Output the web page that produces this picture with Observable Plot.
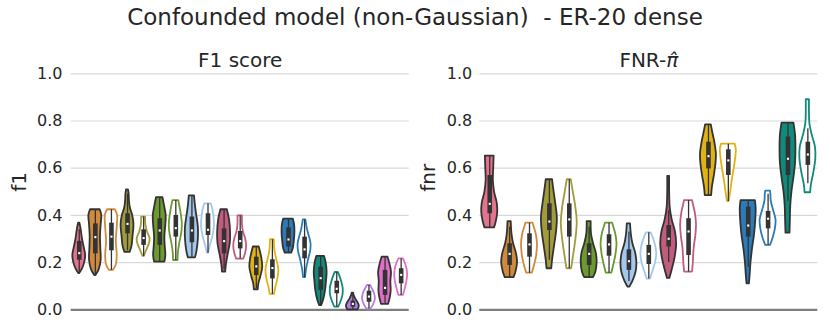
<!DOCTYPE html>
<html>
<head>
<meta charset="utf-8">
<script src="https://cdn.jsdelivr.net/npm/d3@7"></script>
<script src="https://cdn.jsdelivr.net/npm/@observablehq/plot@0.6"></script>
<style>
  body { margin: 0; background: #fff; font-family: "DejaVu Sans", sans-serif; color: #262626; }
  #title { height: 34px; line-height: 34px; text-align: center; font-size: 23px; white-space: pre; width: 830px; }
  #row { display: flex; width: 830px; }
  #row svg { display: block; }
</style>
</head>
<body>
<div id="title">Confounded model (non-Gaussian)  - ER-20 dense</div>
<div id="row"></div>
<script>
// ---------- data ----------
const yTicks = [0, 0.2, 0.4, 0.6, 0.8, 1.0];

const PINK = "#e5738e", ORANGE = "#d08a3c", OLIVE = "#a29b3a", GREEN = "#6c9a2e",
      LBLUE = "#a4c8ec", MAUVE = "#c25c7c", GOLD = "#e0b313", BLUE = "#2b7bb9",
      TEAL = "#108a7b", PURPLE = "#b47ee5", MAGENTA = "#e16fca";

// Left panel: F1 score
const f1Title = "F1 score";
const f1Label = "f1";
const f1Colors = [PINK, ORANGE, ORANGE, OLIVE, OLIVE, GREEN, GREEN, LBLUE, LBLUE, MAUVE, MAUVE,
                  GOLD, GOLD, BLUE, BLUE, TEAL, TEAL, PURPLE, PURPLE, MAGENTA, MAGENTA];
const f1Filled = [1, 1, 0, 1, 0, 1, 0, 1, 0, 1, 0, 1, 0, 1, 0, 1, 0, 1, 0, 1, 0];
// [whisker low, q1, median, q3, whisker high]
const f1Box = [
  [0.155, 0.21, 0.24, 0.29, 0.34],
  [0.145, 0.237, 0.308, 0.364, 0.424],
  [0.167, 0.25, 0.31, 0.367, 0.424],
  [0.25, 0.322, 0.364, 0.407, 0.49],
  [0.226, 0.273, 0.304, 0.339, 0.393],
  [0.202, 0.273, 0.336, 0.386, 0.475],
  [0.209, 0.308, 0.346, 0.40, 0.463],
  [0.22, 0.284, 0.336, 0.393, 0.483],
  [0.24, 0.315, 0.339, 0.407, 0.449],
  [0.17, 0.237, 0.291, 0.343, 0.424],
  [0.215, 0.258, 0.291, 0.332, 0.398],
  [0.09, 0.145, 0.184, 0.223, 0.266],
  [0.065, 0.131, 0.177, 0.212, 0.297],
  [0.24, 0.266, 0.298, 0.347, 0.384],
  [0.136, 0.216, 0.256, 0.308, 0.381],
  [0.018, 0.082, 0.134, 0.181, 0.226],
  [0.011, 0.068, 0.089, 0.121, 0.158],
  [0.0, 0.011, 0.025, 0.037, 0.071],
  [0.003, 0.032, 0.056, 0.079, 0.103],
  [0.023, 0.061, 0.093, 0.167, 0.223],
  [0.061, 0.11, 0.148, 0.174, 0.216]
];
// violin outline: [value, relative half-width]
const f1Shape = [
  [[0.153,0.05],[0.17,0.45],[0.2,0.85],[0.23,1.0],[0.26,0.8],[0.3,0.5],[0.34,0.3],[0.367,0.1]],
  [[0.145,0.1],[0.17,0.6],[0.21,0.9],[0.26,0.85],[0.31,0.8],[0.36,0.9],[0.40,1.0],[0.424,0.75]],
  [[0.167,0.3],[0.19,0.75],[0.23,0.9],[0.29,0.75],[0.35,0.9],[0.40,0.95],[0.424,0.6]],
  [[0.243,0.4],[0.27,0.7],[0.31,0.85],[0.36,1.0],[0.40,0.8],[0.43,0.45],[0.46,0.3],[0.49,0.25],[0.508,0.15]],
  [[0.226,0.1],[0.25,0.45],[0.28,0.9],[0.30,1.0],[0.33,0.6],[0.36,0.35],[0.393,0.3]],
  [[0.202,0.8],[0.23,0.95],[0.27,0.85],[0.31,0.8],[0.36,0.95],[0.40,1.0],[0.44,0.75],[0.475,0.5]],
  [[0.209,0.35],[0.24,0.4],[0.28,0.6],[0.33,0.95],[0.37,1.0],[0.42,0.75],[0.463,0.45]],
  [[0.22,0.55],[0.25,0.8],[0.3,1.0],[0.35,1.0],[0.40,0.75],[0.44,0.55],[0.483,0.4]],
  [[0.24,0.1],[0.27,0.35],[0.31,0.75],[0.35,1.0],[0.40,0.9],[0.43,0.7],[0.449,0.5]],
  [[0.16,0.25],[0.19,0.35],[0.23,0.6],[0.28,0.95],[0.33,1.0],[0.38,0.85],[0.424,0.5]],
  [[0.215,0.55],[0.24,0.85],[0.27,1.0],[0.30,0.85],[0.33,0.5],[0.36,0.35],[0.398,0.35]],
  [[0.085,0.3],[0.11,0.4],[0.14,0.7],[0.18,1.0],[0.22,0.85],[0.25,0.6],[0.266,0.45]],
  [[0.065,0.35],[0.09,0.5],[0.13,0.85],[0.17,1.0],[0.21,0.7],[0.25,0.4],[0.297,0.3]],
  [[0.24,0.5],[0.26,0.75],[0.29,0.9],[0.33,1.0],[0.36,0.95],[0.384,0.75]],
  [[0.136,0.15],[0.17,0.3],[0.21,0.6],[0.25,0.95],[0.28,1.0],[0.31,0.75],[0.34,0.45],[0.381,0.2]],
  [[0.018,0.15],[0.04,0.45],[0.08,0.75],[0.12,0.9],[0.16,1.0],[0.2,0.85],[0.226,0.6]],
  [[0.011,0.3],[0.03,0.6],[0.06,0.95],[0.09,1.0],[0.12,0.75],[0.145,0.45],[0.158,0.25]],
  [[0.0,0.8],[0.015,1.0],[0.03,0.8],[0.045,0.45],[0.06,0.2],[0.071,0.1]],
  [[0.003,0.3],[0.02,0.7],[0.045,1.0],[0.07,0.85],[0.09,0.5],[0.103,0.25]],
  [[0.023,0.55],[0.05,0.8],[0.08,0.95],[0.12,0.9],[0.16,1.0],[0.2,0.7],[0.223,0.45]],
  [[0.061,0.35],[0.09,0.65],[0.12,0.9],[0.15,1.0],[0.18,0.85],[0.2,0.6],[0.216,0.35]]
];

// Right panel: FNR-pi-hat
const fnrTitle = "FNR-π̂";
const fnrLabel = "fnr";
const fnrColors = [PINK, ORANGE, ORANGE, OLIVE, OLIVE, GREEN, GREEN, LBLUE, LBLUE, MAUVE, MAUVE,
                   GOLD, GOLD, BLUE, BLUE, TEAL, TEAL];
const fnrFilled = [1, 1, 0, 1, 0, 1, 0, 1, 0, 1, 0, 1, 0, 1, 0, 1, 0];
const fnrBox = [
  [0.347, 0.407, 0.449, 0.569, 0.651],
  [0.136, 0.188, 0.237, 0.28, 0.35],
  [0.155, 0.223, 0.277, 0.322, 0.367],
  [0.21, 0.336, 0.374, 0.449, 0.551],
  [0.174, 0.308, 0.383, 0.449, 0.551],
  [0.136, 0.188, 0.237, 0.28, 0.35],
  [0.155, 0.227, 0.277, 0.318, 0.367],
  [0.12, 0.167, 0.206, 0.254, 0.33],
  [0.13, 0.192, 0.237, 0.273, 0.326],
  [0.2, 0.266, 0.301, 0.357, 0.42],
  [0.16, 0.23, 0.332, 0.386, 0.463],
  [0.484, 0.597, 0.651, 0.71, 0.784],
  [0.459, 0.569, 0.633, 0.678, 0.702],
  [0.18, 0.308, 0.357, 0.435, 0.463],
  [0.273, 0.343, 0.386, 0.417, 0.49],
  [0.46, 0.569, 0.64, 0.732, 0.791],
  [0.534, 0.612, 0.658, 0.71, 0.767]
];
const fnrShape = [
  [[0.347,0.6],[0.37,0.8],[0.41,1.0],[0.45,0.95],[0.5,0.6],[0.55,0.45],[0.6,0.5],[0.651,0.55]],
  [[0.136,0.55],[0.16,0.8],[0.2,1.0],[0.24,0.85],[0.28,0.5],[0.32,0.3],[0.374,0.2]],
  [[0.155,0.35],[0.19,0.65],[0.23,0.9],[0.28,1.0],[0.32,0.85],[0.35,0.6],[0.367,0.45]],
  [[0.174,0.3],[0.21,0.4],[0.27,0.65],[0.33,0.9],[0.39,1.0],[0.45,0.8],[0.51,0.55],[0.551,0.4]],
  [[0.174,0.3],[0.22,0.5],[0.29,0.8],[0.37,1.0],[0.44,0.8],[0.5,0.5],[0.551,0.25]],
  [[0.136,0.55],[0.16,0.85],[0.2,1.0],[0.24,0.9],[0.28,0.55],[0.32,0.3],[0.374,0.25]],
  [[0.155,0.35],[0.19,0.6],[0.23,0.85],[0.28,1.0],[0.32,0.85],[0.35,0.6],[0.367,0.45]],
  [[0.096,0.1],[0.12,0.5],[0.16,0.9],[0.2,1.0],[0.24,0.85],[0.28,0.5],[0.32,0.3],[0.364,0.2]],
  [[0.13,0.2],[0.16,0.5],[0.2,0.85],[0.24,1.0],[0.28,0.8],[0.31,0.5],[0.326,0.3]],
  [[0.133,0.15],[0.17,0.45],[0.22,0.8],[0.28,1.0],[0.33,0.85],[0.38,0.45],[0.43,0.2],[0.5,0.12],[0.565,0.12]],
  [[0.16,0.5],[0.2,0.6],[0.26,0.7],[0.31,0.9],[0.36,1.0],[0.41,0.85],[0.44,0.65],[0.463,0.5]],
  [[0.484,0.4],[0.52,0.5],[0.57,0.75],[0.62,0.95],[0.66,1.0],[0.71,0.8],[0.75,0.55],[0.784,0.35]],
  [[0.459,0.1],[0.5,0.3],[0.55,0.5],[0.6,0.75],[0.65,0.95],[0.68,1.0],[0.702,0.85]],
  [[0.11,0.15],[0.15,0.25],[0.2,0.35],[0.26,0.55],[0.32,0.8],[0.38,0.95],[0.43,1.0],[0.463,0.9]],
  [[0.273,0.3],[0.3,0.6],[0.34,0.9],[0.38,1.0],[0.42,0.7],[0.46,0.4],[0.49,0.35],[0.503,0.3]],
  [[0.325,0.25],[0.38,0.3],[0.44,0.35],[0.5,0.5],[0.56,0.75],[0.62,0.95],[0.68,1.0],[0.74,0.95],[0.791,0.75]],
  [[0.496,0.35],[0.53,0.45],[0.58,0.75],[0.64,1.0],[0.69,0.95],[0.74,0.55],[0.79,0.25],[0.84,0.2],[0.89,0.2]]
];

// ---------- drawing ----------
const HW = 0.4;        // max half width of a violin, in band units
const DARK = "#333333";

function panel({title, label, colors, filled, box, shape, marginLeft, marginRight, tickDx, labelDx}) {
  const n = colors.length;
  const pts = shape.flatMap((s, i) => s.map(([v, w]) => ({i, v, w})));
  const fillOf = i => filled[i] ? colors[i] : "white";
  const strokeOf = i => filled[i] ? DARK : colors[i];
  return Plot.plot({
    width: 415,
    height: 298,
    marginTop: 39.3,
    marginBottom: 22.7,
    marginLeft,
    marginRight,
    x: {domain: [-0.5, n - 0.5], axis: null},
    y: {domain: [0, 1], axis: null},
    color: {type: "identity"},
    style: {fontFamily: "DejaVu Sans", color: "#262626", background: "white", overflow: "visible"},
    marks: [
      Plot.ruleY(yTicks.filter(t => t > 0), {stroke: "#d9d9d9", strokeWidth: 1.2}),
      Plot.ruleY([0], {stroke: "#7f7f7f", strokeWidth: 2.2}),
      Plot.areaX(pts, {
        y: "v",
        x1: d => d.i - d.w * HW,
        x2: d => d.i + d.w * HW,
        z: "i",
        fill: d => fillOf(d.i),
        stroke: d => strokeOf(d.i),
        strokeWidth: 1.8,
        strokeLinejoin: "round",
        curve: "catmull-rom"
      }),
      Plot.ruleX(box, {x: (d, i) => i, y1: d => d[0], y2: d => d[4], stroke: DARK, strokeWidth: 1.3}),
      Plot.ruleX(box, {x: (d, i) => i, y1: d => d[1], y2: d => d[3], stroke: DARK, strokeWidth: 4.6}),
      Plot.dot(box, {x: (d, i) => i, y: d => d[2], r: 1.2, symbol: "square", fill: "white", stroke: "none"}),
      Plot.text(yTicks, {y: d => d, frameAnchor: "left", dx: tickDx, textAnchor: "end", lineAnchor: "middle",
                         text: d => d.toFixed(1), fontSize: 16, fill: "#262626"}),
      Plot.text([label], {frameAnchor: "left", dx: labelDx, rotate: -90, lineAnchor: "middle",
                          fontSize: 20, fill: "#262626"}),
      Plot.text([title], {frameAnchor: "top", dy: -13.6, lineAnchor: "middle", fontSize: 20, fill: "#262626"})
    ]
  });
}

const row = document.getElementById("row");
const left = panel({title: f1Title, label: f1Label, colors: f1Colors, filled: f1Filled, box: f1Box,
                    shape: f1Shape, marginLeft: 70.7, marginRight: 6.3, tickDx: -8.7, labelDx: -52});
const right = panel({title: fnrTitle, label: fnrLabel, colors: fnrColors, filled: fnrFilled, box: fnrBox,
                     shape: fnrShape, marginLeft: 64.3, marginRight: 12.7, tickDx: -7.6, labelDx: -51});
row.appendChild(left);
row.appendChild(right);

// italic pi-hat in the right panel title (matplotlib mathtext style)
right.querySelectorAll("text").forEach(t => {
  if (t.textContent === fnrTitle) {
    t.textContent = "";
    const a = document.createElementNS("http://www.w3.org/2000/svg", "tspan");
    a.textContent = "FNR-";
    const b = document.createElementNS("http://www.w3.org/2000/svg", "tspan");
    b.textContent = "π̂";
    b.setAttribute("font-style", "italic");
    t.appendChild(a); t.appendChild(b);
  }
});
</script>
</body>
</html>
